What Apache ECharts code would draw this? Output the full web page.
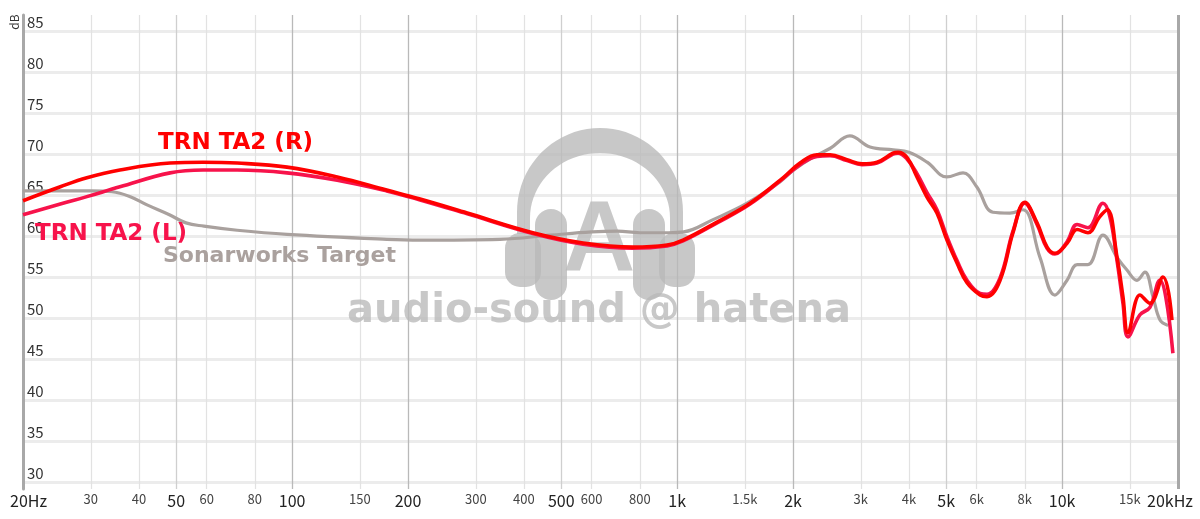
<!DOCTYPE html>
<html><head><meta charset="utf-8">
<script src="https://cdn.jsdelivr.net/npm/echarts@6/dist/echarts.min.js"></script>
<style>html,body{margin:0;padding:0;background:#fff}#c{width:1200px;height:519px}</style>
</head><body><div id="c"></div>
<script>
// ---- data ----
const yTicks = [30,35,40,45,50,55,60,65,70,75,80,85];
const xTicks = [20,30,40,50,60,80,100,150,200,300,400,500,600,800,1000,1500,2000,3000,4000,5000,6000,8000,10000,15000,20000];
const xTickLabels = ['20Hz','30','40','50','60','80','100','150','200','300','400','500','600','800','1k','1.5k','2k','3k','4k','5k','6k','8k','10k','15k','20kHz'];
const xDark = [100,200,1000,2000,10000];
const xMid = [50,500,5000];
const xBigLabel = [20,50,100,200,500,1000,2000,5000,10000,20000];

const freqTarget = [20,25,30,34,38,42,48,53,59,72,97,176,215,347,468,600,700,800,950,1040,1240,1520,1850,2000,2250,2500,2810,3170,3640,4000,4460,5020,5530,6000,6610,7320,7910,8760,9580,10300,10940,11670,12770,13890,14740,15650,16410,17220,17960,18840];
const dbTarget   = [65.5,65.5,65.5,65.4,64.8,63.8,62.6,61.6,61.2,60.7,60.2,59.6,59.5,59.6,60.1,60.5,60.6,60.4,60.4,60.5,62.0,64.0,66.6,68.0,69.6,70.7,72.2,70.85,70.5,70.2,69.0,67.2,67.7,66.0,62.9,62.8,63.2,57.4,52.8,54.6,56.5,56.5,60.1,57.4,55.85,54.6,55.6,52.6,49.75,49.1];

const freqR = [20,25,29.3,35.7,48.2,58.7,72,97,131,176,215,285,422,570,768,942,1036,1270,1547,1884,2086,2308,2496,2762,3022,3306,3638,3748,3954,4198,4457,4731,5024,5334,5662,6122,6381,6900,7454,8000,8608,9140,9580,10300,10940,11670,12500,13100,13890,14390,14830,15930,16910,18280,19290];
const dbR   = [64.3,66.0,67.1,68.05,68.9,69.0,68.9,68.4,67.2,65.6,64.5,62.8,60.4,59.15,58.65,58.9,59.5,61.7,64.0,67.1,68.9,69.9,69.9,69.3,68.8,69.0,70.1,70.2,69.6,67.2,64.75,62.8,59.5,56.7,54.3,52.8,52.6,54.6,60.4,64.1,61.6,58.65,57.9,59.1,60.8,60.4,62.3,63.2,57.4,52.6,48.2,52.8,51.8,55.0,49.75];

const freqL = [20,25,29.3,35.7,48.2,58.7,72,97,131,176,215,285,422,570,768,942,1036,1270,1547,1884,2086,2308,2496,2762,3022,3306,3638,3748,3954,4198,4457,4731,5024,5334,5662,6122,6381,6900,7454,8000,8608,9140,9580,10300,10940,11670,12770,13300,13890,14390,14830,15930,16910,17960,18600,19400];
const dbL   = [62.6,63.9,64.8,66.0,67.7,68.05,68.05,67.7,66.8,65.5,64.4,62.7,60.3,59.0,58.5,58.8,59.4,61.6,63.9,67.0,68.7,69.7,69.8,69.2,68.7,68.9,70.0,70.1,69.4,67.6,65.3,63.2,59.9,57.0,54.6,53.0,52.9,54.9,60.6,64.0,61.4,58.5,57.8,59.3,61.4,61.0,64.0,62.4,57.0,51.8,47.7,50.4,51.3,54.6,52.5,45.7];

const seriesNames = ['Sonarworks Target','TRN TA2 (L)','TRN TA2 (R)'];
const colors = ['#a9a19e','#f7134b','#ff0000'];

// ---- build ----
const pairs = (f, v) => f.map((x, i) => [x, v[i]]);
const lblFont = '"Noto Sans CJK JP", "Noto Sans", sans-serif';

const yLines = yTicks.map(v => ({
  yAxis: v,
  lineStyle: { color: '#ececec', width: 3, type: 'solid' },
  label: { show: true, position: 'insideStartTop', formatter: String(v), color: '#333', fontSize: 15, fontFamily: lblFont, distance: [4, 1] }
}));
const xLines = xTicks.map((v, i) => {
  const big = xBigLabel.includes(v);
  let color = '#e2e2e2', width = 1.2;
  if (xDark.includes(v)) { color = '#b9b9b9'; width = 1.3; }
  else if (xMid.includes(v)) { color = '#cfcfcf'; width = 1.3; }
  if (v === 20) { color = 'rgba(0,0,0,0)'; }
  if (v === 20000) { color = '#a8a8a8'; width = 3; }
  let padding = 0;
  if (i === 0) padding = [0, 0, 0, 11];
  if (i === xTicks.length - 1) padding = [0, 16, 0, 0];
  return {
    xAxis: v,
    lineStyle: { color, width, type: 'solid' },
    label: { show: true, position: 'start', formatter: xTickLabels[i], color: big ? '#222' : '#444', fontSize: big ? 16 : 13, fontFamily: lblFont, distance: 4, padding }
  };
});

// headband outline (decorative watermark)
function bandPoints() {
  const pts = [];
  const N = 40;
  pts.push([517, 234]);
  for (let k = 0; k <= N; k++) { const a = Math.PI + Math.PI * k / N; pts.push([600 + 83 * Math.cos(a), 212 + 84 * Math.sin(a)]); }
  pts.push([683, 234]); pts.push([670, 234]);
  for (let k = 0; k <= N; k++) { const a = 2 * Math.PI - Math.PI * k / N; pts.push([600 + 70 * Math.cos(a), 218 + 65 * Math.sin(a)]); }
  pts.push([530, 234]);
  return pts;
}

const wm = 'rgba(185,185,185,0.78)';
const chart = echarts.init(document.getElementById('c'), null, { renderer: 'canvas' });
chart.setOption({
  animation: false,
  backgroundColor: '#ffffff',
  grid: { left: 23, right: 22, top: 15, bottom: 30, containLabel: false },
  xAxis: { type: 'log', logBase: 10, min: 20, max: 20000,
    axisLine: { show: false }, axisTick: { show: false }, axisLabel: { show: false }, splitLine: { show: false }, minorSplitLine: { show: false } },
  yAxis: { type: 'value', min: 29.15, max: 86.95,
    axisLine: { show: true, lineStyle: { color: '#a8a8a8', width: 3 } }, axisTick: { show: false }, axisLabel: { show: false }, splitLine: { show: false } },
  graphic: [
    { type: 'polygon', z: 1, silent: true, shape: { points: bandPoints() }, style: { fill: wm } },
    { type: 'rect', z: 1, silent: true, shape: { x: 505, y: 233, width: 36, height: 54, r: 15 }, style: { fill: wm } },
    { type: 'rect', z: 1, silent: true, shape: { x: 535, y: 209, width: 32, height: 91, r: 16 }, style: { fill: wm } },
    { type: 'rect', z: 1, silent: true, shape: { x: 633, y: 209, width: 32, height: 91, r: 16 }, style: { fill: wm } },
    { type: 'rect', z: 1, silent: true, shape: { x: 659, y: 233, width: 36, height: 54, r: 15 }, style: { fill: wm } },
    { type: 'text', z: 1, silent: true, style: { x: 599, y: 293, text: 'A', fill: wm, font: 'bold 100px "Liberation Sans", Arial, sans-serif', textAlign: 'center', textVerticalAlign: 'bottom' } },
    { type: 'text', z: 1, silent: true, style: { x: 599, y: 312, text: 'audio-sound @ hatena', fill: wm, font: 'bold 40px "DejaVu Sans", sans-serif', textAlign: 'center', textVerticalAlign: 'middle' } },
    { type: 'text', z: 10, style: { x: 158, y: 143, text: seriesNames[2], fill: colors[2], font: 'bold 23px "DejaVu Sans", sans-serif', textAlign: 'left', textVerticalAlign: 'middle' } },
    { type: 'text', z: 10, style: { x: 35, y: 234, text: seriesNames[1], fill: colors[1], font: 'bold 23px "DejaVu Sans", sans-serif', textAlign: 'left', textVerticalAlign: 'middle' } },
    { type: 'text', z: 10, style: { x: 163, y: 256, text: seriesNames[0], fill: '#aaa19e', font: 'bold 22px "DejaVu Sans", sans-serif', textAlign: 'left', textVerticalAlign: 'middle' } },
    { type: 'text', z: 10, x: 14, y: 22, rotation: Math.PI / 2, style: { x: 0, y: 0, text: 'dB', fill: '#333', font: '12px "Noto Sans CJK JP", sans-serif', textAlign: 'center', textVerticalAlign: 'middle' } }
  ],
  series: [
    { type: 'line', name: 'grid', data: [], z: 0, silent: true,
      markLine: { z: 0, silent: true, symbol: ['none', 'none'], animation: false, data: yLines.concat(xLines) } },
    { type: 'line', name: seriesNames[0], data: pairs(freqTarget, dbTarget), smooth: 0.4, showSymbol: false, z: 2,
      lineStyle: { color: colors[0], width: 3.2 } },
    { type: 'line', name: seriesNames[1], data: pairs(freqL, dbL), smooth: 0.4, showSymbol: false, z: 3,
      lineStyle: { color: colors[1], width: 3.6 } },
    { type: 'line', name: seriesNames[2], data: pairs(freqR, dbR), smooth: 0.4, showSymbol: false, z: 4,
      lineStyle: { color: colors[2], width: 3.6 } }
  ]
});
</script></body></html>
